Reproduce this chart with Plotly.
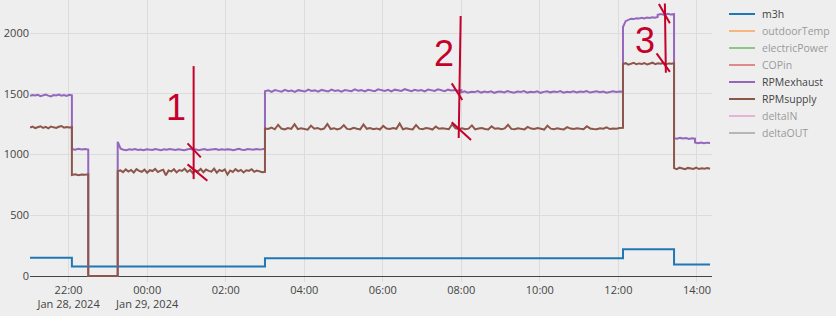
import numpy as np
import pandas as pd
import plotly.graph_objects as go

# ---------------- data ----------------
m3h_times = ["2024-01-28 21:01", "2024-01-28 22:05", "2024-01-29 03:00",
             "2024-01-29 12:07", "2024-01-29 13:25", "2024-01-29 14:20"]
m3h_values = [150, 78, 147, 221, 95, 95]

exhaust_segments = [
    ("2024-01-28 21:01", "2024-01-28 22:05",
     [1483, 1490, 1486, 1492, 1481, 1488, 1494, 1485, 1479, 1490, 1487, 1493, 1484, 1489, 1482, 1491, 1488]),
    ("2024-01-28 22:05", "2024-01-28 22:30", [1045, 1040, 1047, 1042, 1046, 1041]),
    ("2024-01-28 22:30", "2024-01-28 23:15", [0, 0]),
    ("2024-01-28 23:15", "2024-01-29 03:00",
     [1105, 1048, 1040, 1036, 1043, 1039, 1045, 1037, 1042, 1035, 1044, 1040, 1038, 1046, 1041, 1036,
      1043, 1039, 1045, 1040, 1037, 1044, 1041, 1035, 1042, 1047, 1039, 1043, 1036, 1041, 1045, 1038,
      1042, 1040, 1046, 1037, 1043, 1039, 1044, 1041, 1036, 1042, 1047, 1040, 1038, 1045, 1043, 1039,
      1046, 1041, 1044, 1048]),
    ("2024-01-29 03:00", "2024-01-29 08:00",
     [1520, 1528, 1515, 1531, 1524, 1518, 1533, 1522, 1527, 1516, 1530, 1525, 1519, 1535, 1523, 1528,
      1517, 1532, 1526, 1520, 1534, 1524, 1529, 1518, 1531, 1527, 1521, 1536, 1525, 1530, 1519, 1533,
      1526, 1522, 1537, 1528, 1523, 1532, 1519, 1534, 1527, 1524, 1538, 1529, 1521, 1533, 1526, 1531,
      1520, 1535, 1528, 1524, 1537, 1530, 1522, 1534, 1527, 1532, 1525, 1530]),
    ("2024-01-29 08:00", "2024-01-29 12:07",
     [1512, 1520, 1509, 1517, 1514, 1522, 1510, 1518, 1513, 1521, 1508, 1516, 1519, 1511, 1523, 1514,
      1509, 1518, 1515, 1522, 1510, 1517, 1513, 1520, 1508, 1516, 1521, 1512, 1518, 1514, 1523, 1509,
      1517, 1513, 1520, 1511, 1519, 1515, 1522, 1510, 1516, 1521, 1513, 1518, 1509, 1517, 1520, 1514,
      1519, 1516]),
    ("2024-01-29 12:07", "2024-01-29 13:00",
     [2050, 2098, 2110, 2118, 2115, 2122, 2119, 2126, 2121, 2128, 2124, 2130, 2127, 2132]),
    ("2024-01-29 13:00", "2024-01-29 13:25", [2150, 2156, 2148, 2158, 2152, 2155]),
    ("2024-01-29 13:25", "2024-01-29 13:57", [1135, 1130, 1137, 1132, 1136, 1129, 1134, 1131]),
    ("2024-01-29 13:57", "2024-01-29 14:20", [1100, 1094, 1099, 1093, 1098, 1096]),
]

supply_segments = [
    ("2024-01-28 21:01", "2024-01-28 22:05",
     [1222, 1230, 1218, 1226, 1233, 1220, 1228, 1216, 1231, 1224, 1219, 1229, 1235, 1221, 1227, 1223, 1225]),
    ("2024-01-28 22:05", "2024-01-28 22:30", [832, 838, 830, 836, 834, 837]),
    ("2024-01-28 22:30", "2024-01-28 23:15", [0, 0]),
    ("2024-01-28 23:15", "2024-01-29 03:00",
     [862, 870, 855, 878, 860, 873, 852, 880, 866, 858, 876, 850, 871, 864, 882, 856, 868, 875, 829,
      869, 861, 879, 853, 872, 865, 883, 857, 874, 848, 870, 862, 881, 855, 877, 866, 859, 884, 851,
      873, 863, 878, 835, 869, 857, 880, 862, 874, 853, 871, 866, 879, 858, 868, 861, 855, 858]),
    ("2024-01-29 03:00", "2024-01-29 12:07",
     [1215, 1210, 1222, 1208, 1245, 1214, 1206, 1218, 1211, 1250, 1209, 1216, 1212, 1205, 1238, 1213,
      1219, 1207, 1214, 1252, 1210, 1217, 1206, 1215, 1241, 1211, 1208, 1220, 1213, 1207, 1248, 1212,
      1218, 1209, 1215, 1206, 1236, 1214, 1210, 1219, 1212, 1255, 1208, 1216, 1211, 1207, 1243, 1213,
      1209, 1218, 1214, 1206, 1230, 1212, 1217, 1210, 1208, 1249, 1215, 1211, 1216, 1209, 1213, 1240,
      1207, 1214, 1218, 1210, 1206, 1232, 1212, 1217, 1209, 1215, 1245, 1211, 1208, 1216, 1213, 1207,
      1228, 1214, 1210, 1218, 1212, 1206, 1238, 1213, 1209, 1216, 1211, 1207, 1226, 1214, 1210, 1217,
      1212, 1208, 1233, 1215, 1211, 1209, 1216, 1213, 1224, 1210, 1214, 1212, 1218, 1220]),
    ("2024-01-29 12:07", "2024-01-29 13:25",
     [1745, 1752, 1740, 1748, 1755, 1743, 1750, 1746, 1753, 1741, 1749, 1756, 1744, 1751, 1747, 1754,
      1742, 1750, 1748, 1752]),
    ("2024-01-29 13:25", "2024-01-29 14:20",
     [888, 880, 892, 884, 879, 890, 885, 882, 893, 881, 887, 884, 889, 883]),
]

# legend entries, in order; hidden ones (legend-only, values not shown) are faded
legend_names = ["m3h", "outdoorTemp", "electricPower", "COPin",
                "RPMexhaust", "RPMsupply", "deltaIN", "deltaOUT"]
legend_visible = [True, False, False, False, True, True, False, False]

x_range = ["2024-01-28 21:01", "2024-01-29 14:23"]
y_range = [-49, 2272]

# hand-drawn red markers: (time, value) pairs
marks = [
    [("2024-01-29 01:11", 1728), ("2024-01-29 01:11", 798)],
    [("2024-01-29 01:01:40", 1092), ("2024-01-29 01:22", 977)],
    [("2024-01-29 01:01:40", 919), ("2024-01-29 01:32", 784)],
    [("2024-01-29 07:59", 2140), ("2024-01-29 07:56", 1136)],
    [("2024-01-29 07:45:20", 1586), ("2024-01-29 08:01:30", 1449)],
    [("2024-01-29 07:45:20", 1265), ("2024-01-29 08:14:50", 1119)],
    [("2024-01-29 13:11", 2244), ("2024-01-29 13:12:30", 1673)],
    [("2024-01-29 13:01:50", 2239), ("2024-01-29 13:18:40", 2080)],
    [("2024-01-29 12:58:20", 1833), ("2024-01-29 13:18:40", 1681)],
]
mark_labels = [("1", "2024-01-29 00:44:30", 1391),
               ("2", "2024-01-29 07:33:30", 1835),
               ("3", "2024-01-29 12:40:30", 1940)]


def build(segments):
    xs, ys = [], []
    for start, end, vals in segments:
        t = pd.to_datetime(np.linspace(pd.Timestamp(start).value, pd.Timestamp(end).value, len(vals)))
        xs.extend(list(t))
        ys.extend(vals)
    return xs, ys


ex_x, ex_y = build(exhaust_segments)
su_x, su_y = build(supply_segments)

colors = {"m3h": "#1f77b4", "outdoorTemp": "#ff7f0e", "electricPower": "#2ca02c",
          "COPin": "#d62728", "RPMexhaust": "#9467bd", "RPMsupply": "#8c564b",
          "deltaIN": "#e377c2", "deltaOUT": "#7f7f7f"}

fig = go.Figure()
fig.add_trace(go.Scatter(x=pd.to_datetime(m3h_times), y=m3h_values, name="m3h", mode="lines",
                         line=dict(color=colors["m3h"], width=2, shape="hv")))
fig.add_trace(go.Scatter(x=ex_x, y=ex_y, name="RPMexhaust", mode="lines",
                         line=dict(color=colors["RPMexhaust"], width=2)))
fig.add_trace(go.Scatter(x=su_x, y=su_y, name="RPMsupply", mode="lines",
                         line=dict(color=colors["RPMsupply"], width=2)))

red = "#c4002b"
for (p0, p1) in marks:
    fig.add_shape(type="line", xref="x", yref="y", x0=p0[0], y0=p0[1], x1=p1[0], y1=p1[1],
                  line=dict(color=red, width=2))
for txt, tx, ty in mark_labels:
    fig.add_annotation(x=tx, y=ty, xref="x", yref="y", text=txt, showarrow=False,
                       font=dict(family="Liberation Sans, Arial", size=36, color=red))

# legend drawn beside the plot (plot domain spans 682 x 282 px)
W, H = 836, 316
PW, PH, PL = 682, 282, 30
leg_x0, leg_x1, leg_tx = 729, 755, 760
leg_y0, leg_dy = 14, 17.0
for i, (name, vis) in enumerate(zip(legend_names, legend_visible)):
    yd = (PH - (leg_y0 + i * leg_dy)) / PH
    op = 1.0 if vis else 0.5
    fig.add_shape(type="line", xref="x domain", yref="y domain",
                  x0=(leg_x0 - PL) / PW, x1=(leg_x1 - PL) / PW, y0=yd, y1=yd,
                  line=dict(color=colors[name], width=2), opacity=op)
    fig.add_annotation(xref="x domain", yref="y domain",
                       x=(leg_tx - PL) / PW, y=yd,
                       xanchor="left", yanchor="middle", text=name, showarrow=False,
                       font=dict(size=10.5, color="#444"), opacity=op)

bg = "#eeeeee"
fig.update_layout(
    width=W, height=H, autosize=False,
    margin=dict(l=30, r=124, t=0, b=34),
    paper_bgcolor=bg, plot_bgcolor=bg,
    font=dict(family="Open Sans", size=11, color="#444"),
    showlegend=False,
)
fig.update_xaxes(range=x_range, showgrid=True, gridcolor="#dcdcdc", zeroline=False,
                 dtick=2 * 3600 * 1000, tickfont=dict(size=11))
fig.update_yaxes(range=y_range, showgrid=True, gridcolor="#dcdcdc", dtick=500,
                 zeroline=True, zerolinecolor="#444", zerolinewidth=1, tickfont=dict(size=11))

fig.write_html("out.html")
